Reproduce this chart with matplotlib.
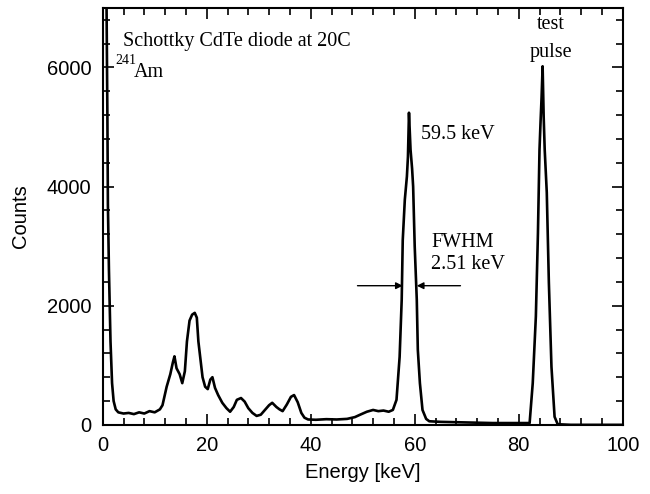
import numpy as np
import matplotlib
matplotlib.use("Agg")
import matplotlib.pyplot as plt
from matplotlib.ticker import MultipleLocator

plt.rcParams['font.family'] = ['Liberation Sans', 'DejaVu Sans']

# Spectrum (energy in keV, counts)
energy = [0.5, 0.7, 0.9, 1.0, 1.2, 1.5, 1.8, 2.1, 2.5, 3.0, 4, 5, 6, 7, 8, 9, 10, 11,
          11.5, 12.3, 13.0, 13.5, 13.8, 14.2, 14.8, 15.3, 15.8, 16.2, 16.7, 17.2,
          17.7, 18.1, 18.4, 18.8, 19.2, 19.7, 20.2, 20.7, 21.1, 21.6, 22.2, 23.0,
          23.8, 24.5, 25.2, 25.8, 26.6, 27.3, 28.0, 28.8, 29.6, 30.4, 31.2, 32.0,
          32.6, 33.4, 34.0, 34.6, 35.4, 36.2, 36.8, 37.5, 38.2, 38.8, 39.5, 41, 43,
          45, 47, 48.5, 49.5, 50.8, 52, 53, 54, 55, 55.8, 56.5, 57.1, 57.5, 57.7,
          58.1, 58.5, 58.7, 58.9, 59.2, 59.5, 59.7, 60.0, 60.4, 60.6, 61.0, 61.5,
          62.2, 62.8, 65, 70, 75, 80, 82.1, 82.7, 83.3, 83.7, 84.0, 84.2, 84.4,
          84.6, 84.8, 85.0, 85.4, 85.8, 86.3, 86.9, 87.5, 90, 100]
counts = [7600, 7500, 5200, 3700, 2600, 1400, 700, 400, 260, 210, 190, 200, 180, 210,
          190, 230, 210, 260,
          330, 640, 850, 1050, 1150, 950, 850, 700, 900, 1400, 1750, 1850,
          1880, 1800, 1400, 1100, 800, 640, 600, 760, 800, 620, 500, 370,
          280, 220, 300, 420, 450, 390, 280, 200, 150, 170, 250, 330,
          370, 300, 260, 230, 340, 470, 500, 380, 200, 120, 90, 85, 95,
          90, 100, 130, 170, 220, 250, 230, 240, 220, 250, 420, 1140, 2100, 3100,
          3780, 4170, 4500, 5240, 4620, 4300, 4000, 3000, 2100, 1260, 700, 250,
          100, 60, 50, 40, 30, 30, 30, 700, 1820, 3220, 4620, 5080, 5500,
          6020, 5180, 4620, 3900, 2390, 975, 135, 10, 0, 0]

x_ticks = [0, 20, 40, 60, 80, 100]
y_ticks = [0, 2000, 4000, 6000]

fig = plt.figure(figsize=(6.5, 4.94), dpi=100)
ax = fig.add_axes([0.158, 0.14, 0.80, 0.844])

ax.plot(energy, counts, color="black", lw=1.9, solid_joinstyle="round")

ax.set_xlim(0, 100)
ax.set_ylim(0, 7000)
ax.set_xticks(x_ticks)
ax.set_yticks(y_ticks)
ax.xaxis.set_minor_locator(MultipleLocator(4))
ax.yaxis.set_minor_locator(MultipleLocator(400))
ax.tick_params(which="both", direction="in", top=True, right=True,
               labelsize=14.5, width=1.2)
ax.tick_params(which="major", length=8, pad=8)
ax.tick_params(which="minor", length=5)
for s in ax.spines.values():
    s.set_linewidth(1.5)

ax.set_xlabel("Energy [keV]", fontsize=14.5, labelpad=6)
ax.set_ylabel("Counts", fontsize=14.5, labelpad=12)

serif = dict(family="Liberation Serif", fontsize=14.5)
ax.text(3.9, 6440, "Schottky CdTe diode at 20C", va="center", **serif)
ax.text(2.4, 6110, "241", va="center", family="Liberation Serif", fontsize=10)
ax.text(6.0, 5920, "Am", va="center", **serif)
ax.text(61.3, 4870, "59.5 keV", va="center", **serif)
ax.text(63.2, 3060, "FWHM", va="center", **serif)
ax.text(63.2, 2690, "2.51 keV", va="center", **serif)
ax.text(86.2, 6720, "test", ha="center", va="center", **serif)
ax.text(86.2, 6250, "pulse", ha="center", va="center", **serif)

arrow = dict(arrowstyle="-|>", color="black", lw=1.0, mutation_scale=10,
             shrinkA=0, shrinkB=0)
ax.annotate("", xy=(57.7, 2336), xytext=(49.0, 2336), arrowprops=arrow)
ax.annotate("", xy=(60.4, 2336), xytext=(68.8, 2336), arrowprops=arrow)

fig.savefig("out.png", dpi=100)
